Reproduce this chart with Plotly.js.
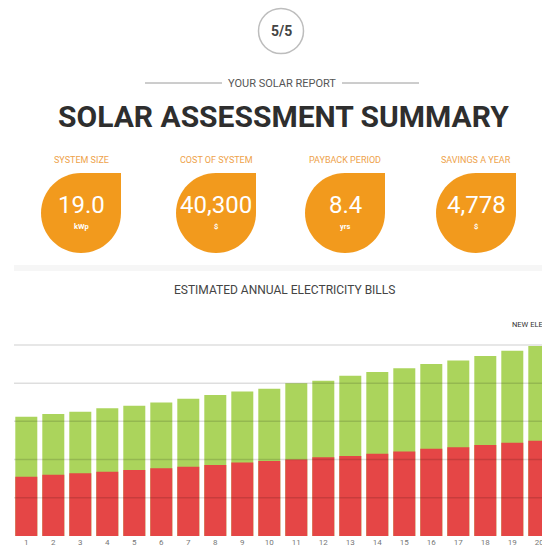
<!DOCTYPE html>
<html><head><meta charset="utf-8">
<script src="https://cdn.plot.ly/plotly-3.0.1.min.js"></script>
<style>html,body{margin:0;padding:0;background:#fff;overflow:hidden}#chart{width:542px;height:549px}</style>
</head><body><div id="chart"></div>
<script>
// ---- data ----
const years = [1,2,3,4,5,6,7,8,9,10,11,12,13,14,15,16,17,18,19,20];
const yearLabels = years.map(String);
const billWithoutSolar = [3120,3190,3250,3340,3410,3490,3590,3690,3780,3850,4000,4060,4190,4290,4390,4500,4590,4710,4850,4970];
const newElectricityBill = [1550,1600,1640,1680,1730,1770,1810,1860,1920,1960,2000,2060,2090,2150,2210,2280,2320,2380,2440,2490];
const gridValues = [1000,2000,3000,4000,5000];
const kpiLabels = ["SYSTEM SIZE","COST OF SYSTEM","PAYBACK PERIOD","SAVINGS A YEAR"];
const kpiValues = ["19.0","40,300","8.4","4,778"];
const kpiUnits = ["kWp","$","yrs","$"];

// ---- layout helpers ----
const W = 542, H = 549;
const M = {l:14, r:0, t:343, b:13};
const PW = W - M.l - M.r, PH = H - M.t - M.b;
const px = x => (x - M.l) / PW;
const py = y => (H - M.b - y) / PH;

const ORANGE = '#f29a1d';
const FONT = 'Roboto, "Open Sans", sans-serif';

const shapes = [];
const annotations = [];

// page indicator circle
const cc = {x:281, y:31, r:22.5};
shapes.push({type:'circle', xref:'paper', yref:'paper', x0:px(cc.x-cc.r), x1:px(cc.x+cc.r), y0:py(cc.y+cc.r), y1:py(cc.y-cc.r), line:{color:'#bdbdbd', width:1.5}, fillcolor:'rgba(0,0,0,0)'});
annotations.push({xref:'paper', yref:'paper', x:px(cc.x), y:py(cc.y), text:'<b>5/5</b>', showarrow:false, xanchor:'center', yanchor:'middle', font:{family:FONT, size:14, color:'#444'}});

// subtitle with rules
shapes.push({type:'line', xref:'paper', yref:'paper', x0:px(145), x1:px(222), y0:py(83), y1:py(83), line:{color:'#9a9a9a', width:1}});
shapes.push({type:'line', xref:'paper', yref:'paper', x0:px(342), x1:px(419), y0:py(83), y1:py(83), line:{color:'#9a9a9a', width:1}});
annotations.push({xref:'paper', yref:'paper', x:px(282), y:py(83), text:'YOUR SOLAR REPORT', showarrow:false, xanchor:'center', yanchor:'middle', font:{family:FONT, size:11, color:'#555'}});

// main title
annotations.push({xref:'paper', yref:'paper', x:px(283), y:py(117), text:'<b>SOLAR ASSESSMENT SUMMARY</b>', showarrow:false, xanchor:'center', yanchor:'middle', font:{family:FONT, size:30, color:'#2e2e2e'}});

// KPI drops
const kpiX = [81, 216, 345, 476];
const dropCY = 213, R = 40, k = 0.5523;
kpiLabels.forEach((lab, i) => {
  const cx = kpiX[i], cy = dropCY;
  const P = (x, y) => px(x).toFixed(5) + ',' + py(y).toFixed(5);
  const path = 'M' + P(cx, cy - R) +
    ' L' + P(cx + R, cy - R) +
    ' L' + P(cx + R, cy) +
    ' C' + P(cx + R, cy + k*R) + ' ' + P(cx + k*R, cy + R) + ' ' + P(cx, cy + R) +
    ' C' + P(cx - k*R, cy + R) + ' ' + P(cx - R, cy + k*R) + ' ' + P(cx - R, cy) +
    ' C' + P(cx - R, cy - k*R) + ' ' + P(cx - k*R, cy - R) + ' ' + P(cx, cy - R) + ' Z';
  shapes.push({type:'path', xref:'paper', yref:'paper', path:path, fillcolor:ORANGE, line:{width:0}});
  annotations.push({xref:'paper', yref:'paper', x:px(cx), y:py(160), text:lab, showarrow:false, xanchor:'center', yanchor:'middle', font:{family:FONT, size:9, color:'#eea24a'}});
  annotations.push({xref:'paper', yref:'paper', x:px(cx), y:py(205), text:kpiValues[i], showarrow:false, xanchor:'center', yanchor:'middle', font:{family:FONT, size:24, color:'#ffffff'}});
  annotations.push({xref:'paper', yref:'paper', x:px(cx), y:py(226), text:'<b>' + kpiUnits[i] + '</b>', showarrow:false, xanchor:'center', yanchor:'middle', font:{family:FONT, size:7.5, color:'#ffffff'}});
});

// separator band
shapes.push({type:'rect', xref:'paper', yref:'paper', x0:px(14), x1:px(542), y0:py(271), y1:py(265), fillcolor:'#f6f6f6', line:{width:0}, layer:'below'});

// chart titles
annotations.push({xref:'paper', yref:'paper', x:px(284), y:py(290), text:'ESTIMATED ANNUAL ELECTRICITY BILLS', showarrow:false, xanchor:'center', yanchor:'middle', font:{family:FONT, size:12, color:'#444'}});
annotations.push({xref:'paper', yref:'paper', x:px(510), y:py(324), text:'NEW ELECTRICITY BILL', showarrow:false, xanchor:'left', yanchor:'middle', font:{family:FONT, size:7.5, color:'#333'}});

// grid lines drawn over the bars
gridValues.forEach(v => {
  shapes.push({type:'line', xref:'paper', yref:'y', x0:0, x1:1, y0:v, y1:v, line:{color:'rgba(0,0,0,0.13)', width:1.5}, layer:'above'});
});

const traces = [
  {type:'bar', x:years, y:billWithoutSolar, name:'Bill without solar', marker:{color:'#abd45c'}, showlegend:false},
  {type:'bar', x:years, y:newElectricityBill, name:'New electricity bill', marker:{color:'#e54646'}, showlegend:false}
];

const layout = {
  width:W, height:H,
  margin:M,
  paper_bgcolor:'#ffffff', plot_bgcolor:'#ffffff',
  barmode:'overlay', bargap:0.185,
  showlegend:false,
  xaxis:{range:[0.5444, 20.1], tickvals:years, ticktext:yearLabels, showgrid:false, zeroline:false, showline:false, ticks:'', automargin:false, ticklabeloverflow:'allow', tickfont:{family:FONT, size:8, color:'#777'}, fixedrange:true},
  yaxis:{range:[0, 5050], showgrid:false, zeroline:false, showline:false, showticklabels:false, ticks:'', automargin:false, fixedrange:true},
  shapes:shapes,
  annotations:annotations
};

Plotly.newPlot('chart', traces, layout, {staticPlot:true, displayModeBar:false});
</script></body></html>
